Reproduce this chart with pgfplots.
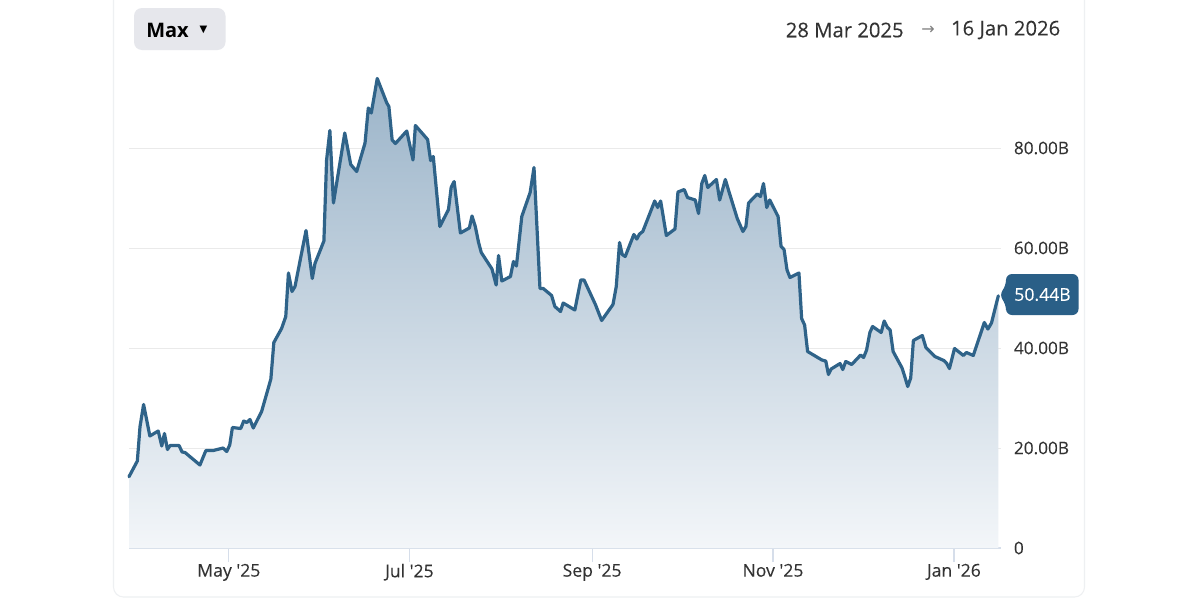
\documentclass[border=0pt]{standalone}
\usepackage{fontspec}
\usepackage{pgfplots}
\usepackage{pgfplotstable}
\pgfplotsset{compat=1.18}
\setmainfont{Open Sans}
\newfontfamily\ui[FakeBold=0.12]{Open Sans}
\newfontfamily\sym{DejaVu Sans}
\definecolor{lineblue}{HTML}{2F6389}
\definecolor{badge}{HTML}{2A5F87}
\definecolor{gridc}{HTML}{EAEAEA}
\definecolor{axisc}{HTML}{D6DEEA}
\definecolor{cardc}{HTML}{EEF0F2}
\definecolor{btn}{HTML}{E6E7EC}
\definecolor{txt}{HTML}{333333}
\definecolor{topf}{HTML}{9BB4C9}
\definecolor{botf}{HTML}{F3F6F9}
\pgfplotstableread{
day value
0 14.26
2.8 17.4
3.7 24.3
4.9 28.7
7.0 22.4
9.8 23.4
11.0 20.4
11.9 22.9
12.9 19.7
13.8 20.5
16.8 20.5
17.8 19.2
18.8 19.1
23.8 16.6
25.8 19.5
28.3 19.5
31.6 20.0
32.8 19.3
33.8 20.6
34.7 24.1
37.5 23.9
38.5 25.4
39.5 25.1
40.6 25.7
41.7 24.0
44.5 27.3
46.7 31.9
47.6 33.8
48.6 41.1
51.2 43.9
52.6 46.3
53.5 55.0
54.7 51.3
55.7 52.3
59.4 63.5
61.5 53.9
62.4 56.9
65.4 61.4
66.3 77.6
67.4 83.5
68.6 69.0
72.4 83.0
74.4 76.7
76.4 75.3
79.2 81.0
80.3 88.0
81.3 87.0
83.3 93.9
86.5 89.0
87.2 88.3
88.3 81.6
89.4 80.9
93.2 83.4
95.3 77.6
96.1 84.5
100.2 81.7
101.2 77.5
102.1 78.3
104.3 64.3
107.2 67.7
108.1 72.1
109.1 73.3
111.2 63.0
114.2 64.0
115.1 66.4
116.2 64.3
117.3 61.1
118.2 59.1
121.8 55.8
123.2 52.6
124.0 58.5
125.1 53.4
128.0 54.3
129.0 57.3
130.0 56.4
131.8 66.3
134.6 71.1
135.9 76.1
137.9 51.9
139.0 51.9
141.8 50.5
142.9 48.3
144.8 47.3
145.7 49.0
149.6 47.6
151.6 53.6
152.7 53.6
156.5 48.7
158.6 45.5
162.4 48.7
163.5 52.3
164.6 61.1
165.5 58.7
166.5 58.3
169.4 62.7
170.4 61.8
171.3 62.8
172.4 63.3
176.4 69.4
177.4 68.1
178.4 69.4
180.3 62.5
183.2 63.8
184.2 71.2
186.3 71.7
187.4 70.1
190.0 69.6
191.1 66.9
192.2 72.9
193.2 74.5
194.2 72.1
197.1 73.7
198.2 69.6
200.1 73.7
201.3 71.3
204.1 65.9
206.0 63.3
207.0 64.3
207.9 69.0
210.8 70.8
211.9 70.3
212.9 72.9
214.0 68.1
215.0 69.6
217.8 66.3
218.8 60.3
219.8 59.7
220.8 55.6
221.8 54.1
224.8 55.0
225.7 45.9
226.7 44.6
227.7 39.3
232.5 37.6
233.8 37.4
234.7 34.7
235.6 35.8
238.6 36.9
239.5 35.7
240.5 37.3
242.5 36.7
245.5 38.6
246.5 38.1
247.5 39.6
248.6 43.1
249.5 44.3
252.4 43.1
253.4 45.4
254.5 44.1
255.4 43.6
256.4 39.3
259.4 36.0
260.3 34.3
261.3 32.3
262.3 34.0
263.2 41.5
266.2 42.5
267.4 40.1
270.4 38.3
273.4 37.5
274.3 37.0
275.3 35.9
277.0 39.9
280.0 38.5
281.0 39.1
283.3 38.5
287.0 45.1
288.2 43.8
289.4 45.0
291.7 50.44
}\mcap
\begin{document}
\begin{tikzpicture}[x=0.75pt,y=-0.75pt]
\path[use as bounding box,fill=white] (0,0) rectangle (1200,600);
% card outline
\draw[cardc,line width=0.8pt,rounded corners=7.5pt] (113.5,-10) -- (113.5,597) -- (1084.5,597) -- (1084.5,-10);
\begin{axis}[
  at={(96.75pt,-411pt)},anchor=south west,
  scale only axis,width=654pt,height=354pt,
  xmin=0,xmax=292.6,ymin=0,ymax=94.4,
  clip=false,
  axis x line=bottom,axis y line=right,
  x axis line style={-,draw=axisc,line width=1.1pt},
  y axis line style={draw=none},
  xtick={33.5,94.1,155.4,216.1,276.8},
  xticklabels={May '25,Jul '25,Sep '25,Nov '25,Jan '26},
  ytick={0,20,40,60,80},
  yticklabels={0,20.00B,40.00B,60.00B,80.00B},
  ymajorgrids,
  grid style={gridc,line width=0.75pt},
  x tick style={draw=axisc,line width=0.9pt},
  y tick style={draw=none},
  tick align=outside,
  major tick length=10.5pt,
  xticklabel style={font=\ui\fontsize{13.2}{15}\selectfont,text=txt,inner sep=0pt,yshift=-1.2pt},
  yticklabel style={font=\ui\fontsize{12.9}{15}\selectfont,text=txt,anchor=west,inner sep=0pt,xshift=-1pt},
]
\addplot[draw=none,top color=topf,bottom color=botf] table[x=day,y=value]{\mcap} \closedcycle;
\addplot[lineblue,line width=2.4pt,line join=round,line cap=round] table[x=day,y=value]{\mcap};
\end{axis}
% value badge
\fill[badge,rounded corners=4.5pt] (1006,274) -- (1078.5,274) -- (1078.5,315) -- (1006,315) -- (1006,304) -- (999,295) -- (1006,286) -- cycle;
\node[text=white,font=\ui\fontsize{13.2}{15}\selectfont,inner sep=0pt] at (1042.5,294.5) {50.44B};
% range button
\fill[btn,rounded corners=6pt] (134,8) rectangle (225.5,50);
\node[text=black,font=\fontsize{15}{18}\selectfont\bfseries,anchor=west,inner sep=0pt] at (146,30) {Max};
\node[text=black,font=\fontsize{7.5}{9}\selectfont\sym,inner sep=0pt] at (203.5,30) {▼};
% date range
\node[text=txt,font=\ui\fontsize{15.2}{18}\selectfont,anchor=west,inner sep=0pt] at (785.5,30) {28 Mar 2025};
\node[text=gray,font=\fontsize{12}{14}\selectfont\sym,inner sep=0pt] at (928,30) {→};
\node[text=txt,font=\ui\fontsize{15.2}{18}\selectfont,anchor=east,inner sep=0pt] at (1060.5,30) {16 Jan 2026};
\end{tikzpicture}
\end{document}
